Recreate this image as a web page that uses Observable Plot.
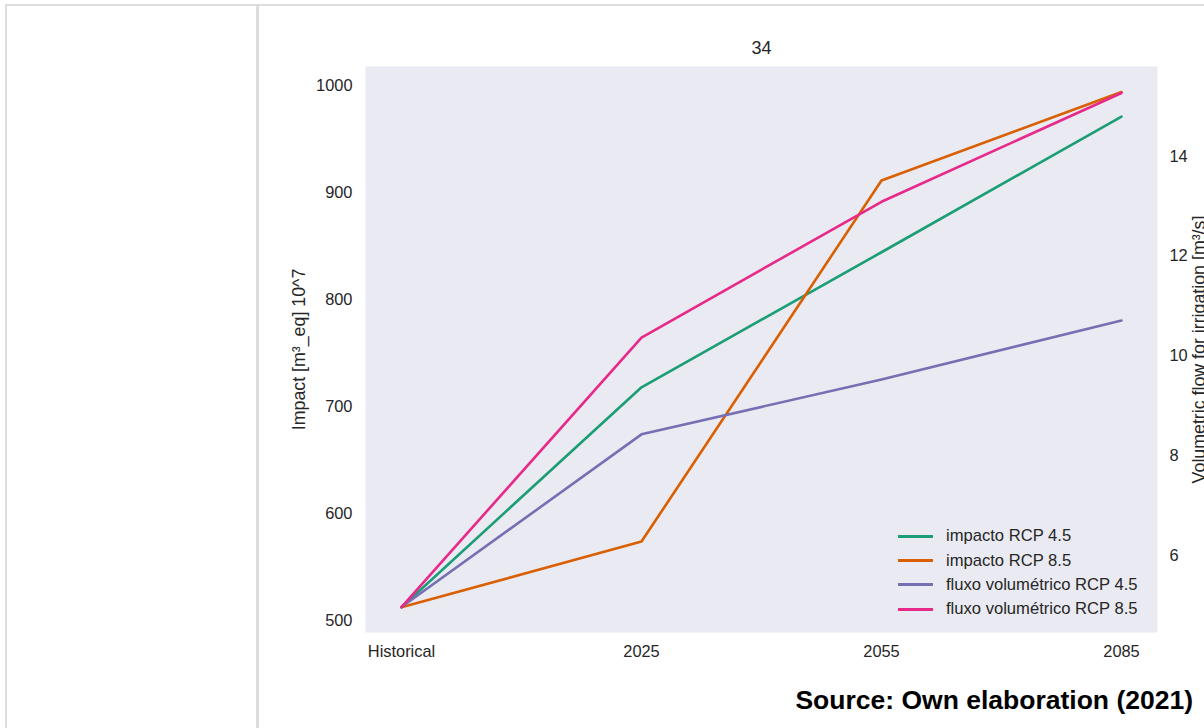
<!DOCTYPE html>
<html>
<head>
<meta charset="utf-8">
<script src="https://cdn.jsdelivr.net/npm/d3@7"></script>
<script src="https://cdn.jsdelivr.net/npm/@observablehq/plot@0.6"></script>
<style>
html,body{margin:0;padding:0;width:1204px;height:728px;overflow:hidden;background:#fff;font-family:"Liberation Sans",Arial,sans-serif;}
#frame{position:absolute;left:5px;top:4px;width:1400px;height:900px;border:2.5px solid #dddddd;box-sizing:border-box;}
#sep{position:absolute;left:256px;top:4px;width:2.7px;height:900px;background:#dddddd;}
.layer{position:absolute;left:258px;top:30px;width:960px;height:640px;}
.layer svg{max-width:none !important;}
#legend{position:absolute;left:898px;top:524px;font-size:16.6px;color:#262626;}
#legend .row{display:flex;align-items:center;height:24.4px;}
#legend .sw{width:35px;height:3px;margin-right:13px;}
#source{position:absolute;right:11px;top:685px;line-height:30px;font-size:26.5px;font-weight:bold;color:#000;}
</style>
</head>
<body>
<div id="frame"></div>
<div id="sep"></div>
<div id="c1" class="layer"></div>
<div id="c2" class="layer"></div>
<div id="legend"></div>
<div id="source">Source: Own elaboration (2021)</div>
<script>
const periods = ["Historical", "2025", "2055", "2085"];
const seriesNames = ["impacto RCP 4.5", "impacto RCP 8.5", "fluxo volumétrico RCP 4.5", "fluxo volumétrico RCP 8.5"];
const seriesColors = ["#1b9e77", "#d95f02", "#7570b3", "#e7298a"];
const impactRCP45 = [512.4, 718.0, 844.2, 971.0];
const impactRCP85 = [512.4, 573.8, 911.2, 993.9];
const flowRCP45 = [4.97, 8.43, 9.53, 10.71];
const flowRCP85 = [4.97, 10.37, 13.09, 15.27];
const impactTicks = [500, 600, 700, 800, 900, 1000];
const flowTicks = [6, 8, 10, 12, 14];
const impactDomain = [488.8, 1017.8];
const flowDomain = [4.46, 15.8];
const chartTitle = "34";
const leftLabel = "Impact [m³_eq] 10^7";
const rightLabel = "Volumetric flow for irrigation [m³/s]";

const W = 960, H = 640, mL = 107, mR = 61, mT = 36, mB = 38;
const font = '"Liberation Sans", Arial, sans-serif';

const impactData = periods.flatMap((p, i) => [
  {period: p, value: impactRCP45[i], series: seriesNames[0]},
  {period: p, value: impactRCP85[i], series: seriesNames[1]}
]);
const flowData = periods.flatMap((p, i) => [
  {period: p, value: flowRCP45[i], series: seriesNames[2]},
  {period: p, value: flowRCP85[i], series: seriesNames[3]}
]);

const common = {
  width: W, height: H, marginLeft: mL, marginRight: mR, marginTop: mT, marginBottom: mB,
  color: {domain: seriesNames, range: seriesColors}
};

const p1 = Plot.plot({
  ...common,
  style: {fontFamily: font, fontSize: "16.4px", color: "#262626", background: "transparent", maxWidth: "none"},
  x: {type: "point", domain: periods, padding: 0.15, label: null, axis: null},
  y: {domain: impactDomain, label: null, axis: null},
  marks: [
    Plot.frame({fill: "#eaeaf2", stroke: null}),
    Plot.axisX({tickSize: 0, tickPadding: 13, label: null, fontSize: 16.4}),
    Plot.axisY({ticks: impactTicks, tickSize: 0, tickPadding: 13, label: null, fontSize: 16.4, tickFormat: d => String(d)}),
    Plot.line(impactData, {x: "period", y: "value", z: "series", stroke: "series", strokeWidth: 2.6}),
    Plot.text([leftLabel], {frameAnchor: "left", dx: -66, rotate: -90, textAnchor: "middle", lineAnchor: "middle", fontSize: 17.8, fill: "#262626"}),
    Plot.text([chartTitle], {frameAnchor: "top", dy: -18, textAnchor: "middle", lineAnchor: "middle", fontSize: 18, fill: "#262626"})
  ]
});
document.getElementById("c1").appendChild(p1);

const p2 = Plot.plot({
  ...common,
  style: {fontFamily: font, fontSize: "16.4px", color: "#262626", background: "transparent", maxWidth: "none"},
  x: {type: "point", domain: periods, padding: 0.15, label: null, axis: null},
  y: {domain: flowDomain, label: null, axis: null},
  marks: [
    Plot.axisY({anchor: "right", ticks: flowTicks, tickSize: 0, tickPadding: 12, label: null, fontSize: 16.4}),
    Plot.line(flowData, {x: "period", y: "value", z: "series", stroke: "series", strokeWidth: 2.6}),
    Plot.text([rightLabel], {frameAnchor: "right", dx: 42, rotate: -90, textAnchor: "middle", lineAnchor: "middle", fontSize: 17.8, fill: "#262626"})
  ]
});
document.getElementById("c2").appendChild(p2);

const legend = document.getElementById("legend");
seriesNames.forEach((name, i) => {
  const row = document.createElement("div");
  row.className = "row";
  const sw = document.createElement("div");
  sw.className = "sw";
  sw.style.background = seriesColors[i];
  const t = document.createElement("span");
  t.textContent = name;
  row.appendChild(sw);
  row.appendChild(t);
  legend.appendChild(row);
});
</script>
</body>
</html>
